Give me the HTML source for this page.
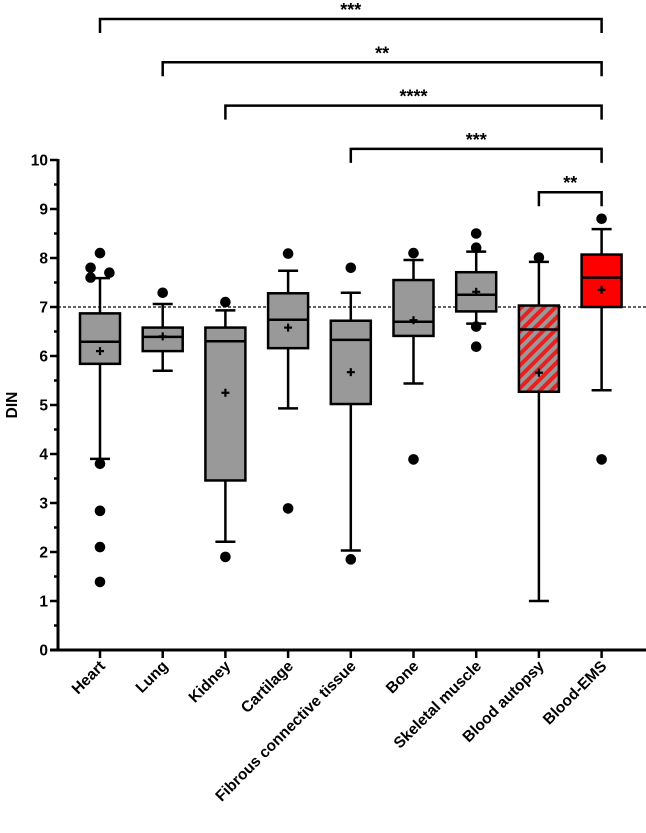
<!DOCTYPE html>
<html><head><meta charset="utf-8"><style>
html,body{margin:0;padding:0;background:#fff}
svg{display:block;font-family:"Liberation Sans",Arial,sans-serif}
</style></head><body>
<svg id="chart" width="646" height="833" viewBox="0 0 646 833">
<defs>
<pattern id="hatch" patternUnits="userSpaceOnUse" width="8" height="8" patternTransform="rotate(45)">
<rect width="8" height="8" fill="#999"/>
<rect width="4" height="8" fill="#e8201f"/>
</pattern>
</defs>
</svg>
<script>
const categories=["Heart","Lung","Kidney","Cartilage","Fibrous connective tissue","Bone","Skeletal muscle","Blood autopsy","Blood-EMS"];
const q1=[5.84,6.10,3.46,6.16,5.02,6.41,6.91,5.27,7.00];
const medians=[6.29,6.39,6.30,6.74,6.33,6.70,7.25,6.54,7.60];
const q3=[6.87,6.58,6.58,7.28,6.72,7.55,7.71,7.03,8.07];
const means=[6.10,6.40,5.25,6.58,5.67,6.73,7.31,5.66,7.35];
const whiskLow=[3.90,5.70,2.21,4.93,2.03,5.44,6.66,1.00,5.30];
const whiskHigh=[7.59,7.06,6.93,7.74,7.29,7.96,8.13,7.92,8.59];
const outlierCat=[0,0,0,0,0,0,0,0,1,2,2,3,3,4,4,5,5,6,6,6,6,7,8,8];
const outlierVal=[8.10,7.80,7.60,7.70,3.80,2.84,2.10,1.39,7.29,7.10,1.90,8.09,2.89,7.80,1.85,8.10,3.89,8.50,8.21,6.60,6.19,8.01,8.80,3.89];
const outlierJitter=[0,-0.15,-0.15,0.15,0,0,0,0,0,0,0,0,0,0,0,0,0,0,0,0,0,0,0,0];
const yTicks=[0,1,2,3,4,5,6,7,8,9,10];
const refLine=7;
const brackets=[[0,8,"***"],[1,8,"**"],[2,8,"****"],[4,8,"***"],[7,8,"**"]];

const svg=document.getElementById('chart');
const NS='http://www.w3.org/2000/svg';
const X0=100,DX=62.7,Y0=650,YS=49,AXL=58;
const xs=i=>X0+i*DX;
const ys=v=>Y0-v*YS;
function mk(t,a,p){const e=document.createElementNS(NS,t);for(const k in a)e.setAttribute(k,a[k]);(p||svg).appendChild(e);return e;}

let rl=mk('line',{x1:AXL,x2:646,y1:ys(refLine),y2:ys(refLine),stroke:'#000','stroke-width':1.2,'stroke-dasharray':'3,2'});



categories.forEach((c,i)=>{
  const g=mk('g',{});
  
  
  const x=xs(i),sw=2.5;
  mk('line',{x1:x,x2:x,y1:ys(whiskHigh[i]),y2:ys(q3[i]),stroke:'#000','stroke-width':sw},g);
  mk('line',{x1:x,x2:x,y1:ys(q1[i]),y2:ys(whiskLow[i]),stroke:'#000','stroke-width':sw},g);
  mk('line',{x1:x-10,x2:x+10,y1:ys(whiskHigh[i]),y2:ys(whiskHigh[i]),stroke:'#000','stroke-width':sw},g);
  mk('line',{x1:x-10,x2:x+10,y1:ys(whiskLow[i]),y2:ys(whiskLow[i]),stroke:'#000','stroke-width':sw},g);
  const fill=i==8?'#ff0000':(i==7?'url(#hatch)':'#999');
  mk('rect',{x:x-20,y:ys(q3[i]),width:40,height:ys(q1[i])-ys(q3[i]),fill:fill,stroke:'#000','stroke-width':sw},g);
  mk('line',{x1:x-20,x2:x+20,y1:ys(medians[i]),y2:ys(medians[i]),stroke:'#000','stroke-width':sw},g);
  const my=ys(means[i]);
  mk('line',{x1:x-4,x2:x+4,y1:my,y2:my,stroke:'#000','stroke-width':2.2},g);
  mk('line',{x1:x,x2:x,y1:my-4,y2:my+4,stroke:'#000','stroke-width':2.2},g);
});

outlierVal.forEach((v,k)=>{
  const d=mk('circle',{cx:xs(outlierCat[k])+outlierJitter[k]*DX,cy:ys(v),r:5.3,fill:'#000'});
  
  
});

const ya=mk('line',{x1:AXL,x2:AXL,y1:ys(10)-1,y2:Y0+1.5,stroke:'#000','stroke-width':3});


const xa=mk('line',{x1:AXL-8,x2:646,y1:Y0,y2:Y0,stroke:'#000','stroke-width':3});


yTicks.forEach(t=>{
  mk('line',{x1:AXL-8,x2:AXL,y1:ys(t),y2:ys(t),stroke:'#000','stroke-width':2.5});
  if(t<10) mk('line',{x1:AXL-4,x2:AXL,y1:ys(t+0.5),y2:ys(t+0.5),stroke:'#000','stroke-width':2.5});
  const tl=mk('text',{x:AXL-10,y:ys(t)+5.5,'text-anchor':'end','font-size':15.5,'font-weight':'bold'});
  tl.textContent=t;
  
  
});
categories.forEach((c,i)=>{
  const x=xs(i);
  mk('line',{x1:x,x2:x,y1:Y0,y2:Y0+8,stroke:'#000','stroke-width':2.5});
  const t=mk('text',{x:x+6,y:Y0+17,'text-anchor':'end','font-size':15.5,'font-weight':'bold',transform:`rotate(-45 ${x+6} ${Y0+17})`});
  t.textContent=c;
  
  
});
const yt=mk('text',{x:17,y:405,'text-anchor':'middle','font-size':15.5,'font-weight':'bold',transform:'rotate(-90 17 405)'});
yt.textContent='DIN';



brackets.forEach((b,k)=>{
  const g=mk('g',{});
  
  
  const y=19+k*43.3,x1=xs(b[0]),x2=xs(b[1]);
  mk('path',{d:`M${x1} ${y+14}V${y}H${x2}V${y+14}`,fill:'none',stroke:'#000','stroke-width':2.5},g);
  const t=mk('text',{x:(x1+x2)/2,y:y-3,'text-anchor':'middle','font-size':18,'font-weight':'bold'},g);
  t.textContent=b[2];
});
</script>
</body></html>
